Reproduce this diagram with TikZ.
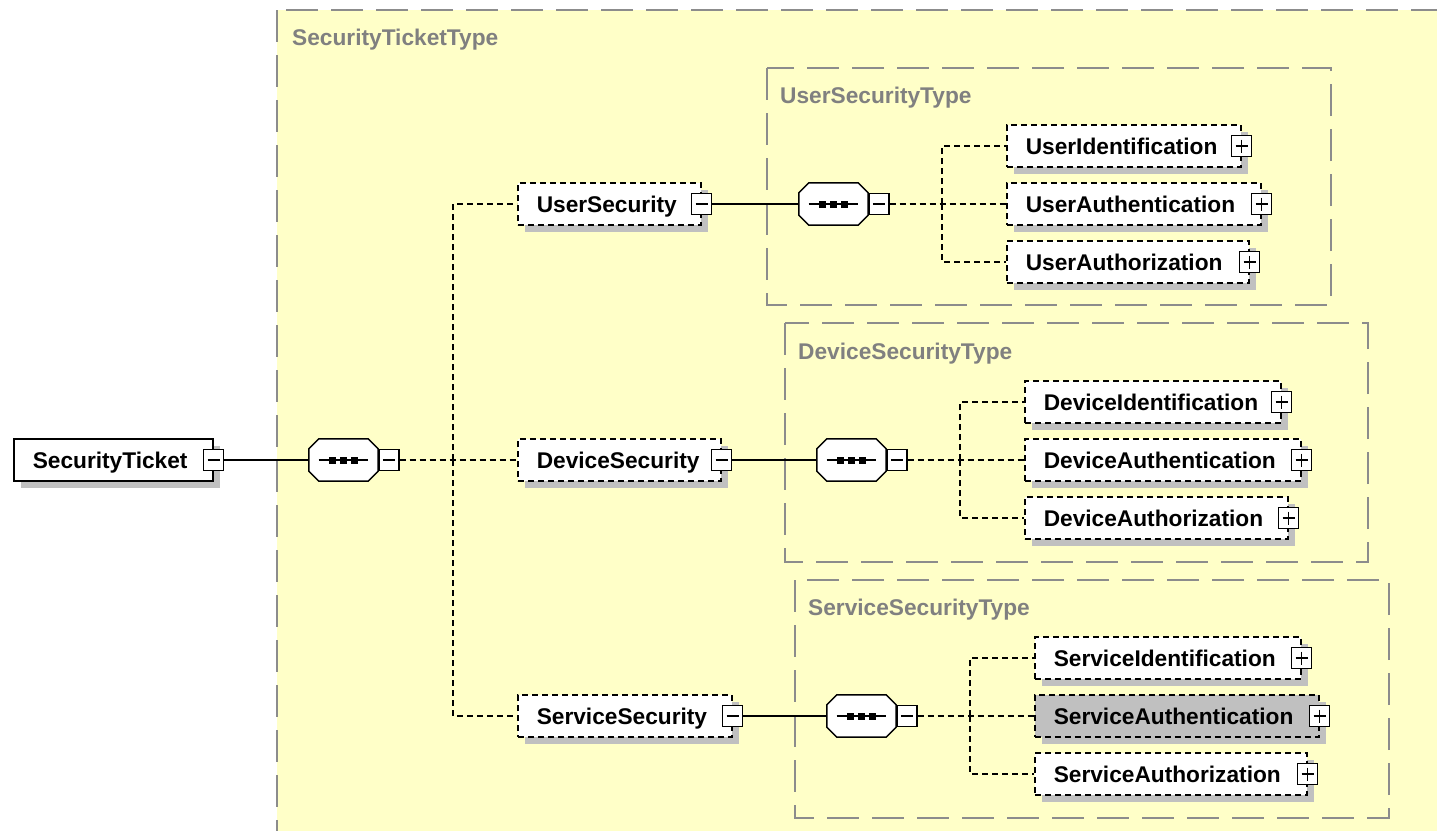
\documentclass[tikz,border=0pt]{standalone}
\usepackage{fontspec}
\setmainfont{Liberation Sans}
\usetikzlibrary{shadows}
\definecolor{xsdyellow}{HTML}{FFFFC8}
\definecolor{xsdframe}{HTML}{8C8C8C}
\definecolor{xsdlabel}{HTML}{808080}
\definecolor{xsdshadow}{HTML}{C0C0C0}
\newcommand\xsdfont{\fontsize{22.7}{27}\selectfont\bfseries}
% octagon of a sequence compositor, drawn round an empty node
\newcommand\seqoct[1]{%
  ([xshift=10pt]#1.north west) -- ([xshift=-10pt]#1.north east)
  -- ([yshift=-10pt]#1.north east) -- ([yshift=10pt]#1.south east)
  -- ([xshift=-10pt]#1.south east) -- ([xshift=10pt]#1.south west)
  -- ([yshift=10pt]#1.south west) -- ([yshift=-10pt]#1.north west) -- cycle}
\newcommand\seqbox[1]{%
  \fill[xsdshadow, shift={(7,7)}] \seqoct{#1};
  \filldraw[fill=white, draw=black, line width=1.5pt] \seqoct{#1};
  \draw[line width=1.5pt] ([xshift=-25pt]#1.center) -- ([xshift=24pt]#1.center);
  \foreach \dx in {-11,0,11}
    \fill ([xshift=\dx pt]#1.center) +(-3.5,-3.5) rectangle +(3.5,3.5);}
\tikzset{
  elem/.style={rectangle, draw=black, line width=1.5pt, dash pattern=on 6pt off 4pt,
    fill=white, anchor=west, inner xsep=19pt, inner ysep=0pt, text width=#1,
    text height=16pt, text depth=0pt, minimum height=42pt, font=\xsdfont,
    drop shadow={shadow xshift=7pt, shadow yshift=-7pt, fill=xsdshadow, opacity=1}},
  seq/.style={rectangle, minimum width=69pt, minimum height=42pt, inner sep=0pt},
  pm/.style={rectangle, draw=black, solid, line width=1.5pt, fill=white,
    minimum width=20pt, minimum height=21pt, inner sep=0pt},
  minus/.style={pm, path picture={
    \draw[line width=1.5pt] ([xshift=4pt]path picture bounding box.west)
      -- ([xshift=-4pt]path picture bounding box.east);}},
  plus/.style={pm, path picture={
    \draw[line width=1.5pt] ([xshift=4pt]path picture bounding box.west)
      -- ([xshift=-4pt]path picture bounding box.east);
    \draw[line width=1.5pt] ([yshift=-4pt]path picture bounding box.north)
      -- ([yshift=4pt]path picture bounding box.south);}},
  grp/.style={draw=xsdframe, line width=2pt, dash pattern=on 32pt off 13pt},
  grplabel/.style={anchor=west, inner sep=0pt, text=xsdlabel, font=\xsdfont},
  link/.style={draw=black, line width=1.5pt},
  conn/.style={draw=black, line width=1.5pt, dash pattern=on 6pt off 4pt}
}
\begin{document}
\begin{tikzpicture}[x=1pt,y=-1pt]
  \useasboundingbox (0,0) rectangle (1437,830);
  \clip (0,0) rectangle (1437,830);
  \fill[white] (0,0) rectangle (1437,830);

  % complex type frames
  \fill[xsdyellow] (277,10) rectangle (1460,850);
  \draw[grp] (277,10) rectangle (1460,850);
  \node[grplabel] (stt) at (292,40) {SecurityTicketType};
  \draw[grp] (767,68) rectangle (1331,305);
  \node[grplabel] (ust) at (780,98) {UserSecurityType};
  \draw[grp] (785,323) rectangle (1368,562);
  \node[grplabel] (dst) at (798,354) {DeviceSecurityType};
  \draw[grp] (795,580) rectangle (1389,818);
  \node[grplabel] (sst) at (808,610) {ServiceSecurityType};

  % root element and its sequence
  \node[elem=161, solid] (st) at (13,460) {SecurityTicket};
  \node[minus] (st-pm) at (st.east) {};
  \node[seq] (c0) at (343.5,460) {};
  \seqbox{c0}
  \node[minus, anchor=west] (c0-pm) at (c0.east) {};
  \coordinate (b0) at (453,460);

  \node[elem=145] (us) at (517,204) {UserSecurity};
  \node[minus] (us-pm) at (us.east) {};
  \node[elem=165] (ds) at (517,460) {DeviceSecurity};
  \node[minus] (ds-pm) at (ds.east) {};
  \node[elem=176] (ss) at (517,716) {ServiceSecurity};
  \node[minus] (ss-pm) at (ss.east) {};

  \draw[link] (st-pm.east) -- (c0.west);
  \draw[conn] (c0-pm.east) -- (ds.west);
  \draw[conn] (b0) |- (us.west);
  \draw[conn] (b0) |- (ss.west);

  % user security
  \node[seq] (c1) at (833.5,204) {};
  \seqbox{c1}
  \node[minus, anchor=west] (c1-pm) at (c1.east) {};
  \coordinate (b1) at (942,204);
  \node[elem=196] (ui) at (1006,146) {UserIdentification};
  \node[plus] (ui-pm) at (ui.east) {};
  \node[elem=216] (ua) at (1006,204) {UserAuthentication};
  \node[plus] (ua-pm) at (ua.east) {};
  \node[elem=204] (uz) at (1006,262) {UserAuthorization};
  \node[plus] (uz-pm) at (uz.east) {};
  \draw[link] (us-pm.east) -- (c1.west);
  \draw[conn] (c1-pm.east) -- (ua.west);
  \draw[conn] (b1) |- (ui.west);
  \draw[conn] (b1) |- (uz.west);

  % device security
  \node[seq] (c2) at (851.5,460) {};
  \seqbox{c2}
  \node[minus, anchor=west] (c2-pm) at (c2.east) {};
  \coordinate (b2) at (960,460);
  \node[elem=218] (di) at (1024,402) {DeviceIdentification};
  \node[plus] (di-pm) at (di.east) {};
  \node[elem=238] (da) at (1024,460) {DeviceAuthentication};
  \node[plus] (da-pm) at (da.east) {};
  \node[elem=225] (dz) at (1024,518) {DeviceAuthorization};
  \node[plus] (dz-pm) at (dz.east) {};
  \draw[link] (ds-pm.east) -- (c2.west);
  \draw[conn] (c2-pm.east) -- (da.west);
  \draw[conn] (b2) |- (di.west);
  \draw[conn] (b2) |- (dz.west);

  % service security
  \node[seq] (c3) at (861.5,716) {};
  \seqbox{c3}
  \node[minus, anchor=west] (c3-pm) at (c3.east) {};
  \coordinate (b3) at (970,716);
  \node[elem=228] (si) at (1034,658) {ServiceIdentification};
  \node[plus] (si-pm) at (si.east) {};
  \node[elem=246, fill=xsdshadow] (sa) at (1034,716) {ServiceAuthentication};
  \node[plus] (sa-pm) at (sa.east) {};
  \node[elem=234] (sz) at (1034,774) {ServiceAuthorization};
  \node[plus] (sz-pm) at (sz.east) {};
  \draw[link] (ss-pm.east) -- (c3.west);
  \draw[conn] (c3-pm.east) -- (sa.west);
  \draw[conn] (b3) |- (si.west);
  \draw[conn] (b3) |- (sz.west);
\end{tikzpicture}
\end{document}
